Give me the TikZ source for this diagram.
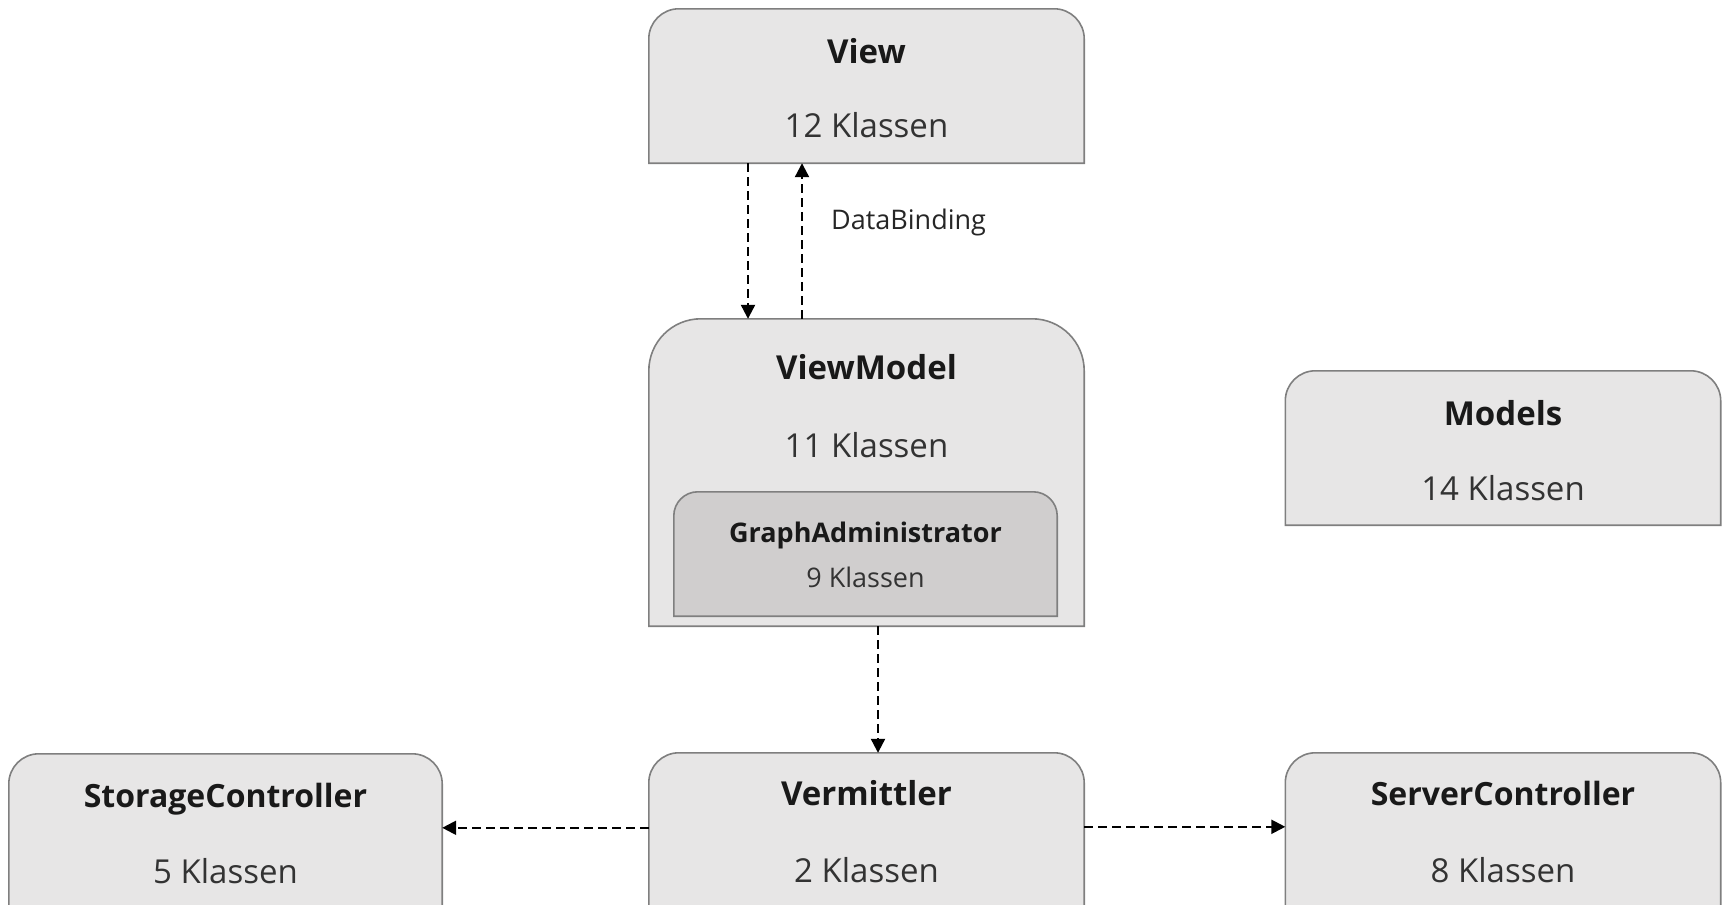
\documentclass[tikz,border=0pt]{standalone}
\usepackage{fontspec}
\setmainfont{Open Sans}
\usepackage{xcolor}
\usepackage{tikz}
\usetikzlibrary{
	arrows.meta,									% 提供各种箭头样式
	backgrounds,									% 定义图片背景
	positioning,									% 节点的高级摆放
}

\definecolor{boxgray}{HTML}{E7E6E6}
\definecolor{innergray}{HTML}{D0CECE}
\definecolor{rimgray}{HTML}{7F7F7F}
\definecolor{countgray}{HTML}{333333}

\tikzset{
	kasten/.style={minimum width=435pt, minimum height=154pt, inner sep=0pt},
	kastenrand/.style={fill=boxgray, draw=rimgray, line width=1.6pt},
	titel/.style={anchor=base, inner sep=0pt, font=\bfseries\fontsize{33}{40}\selectfont, text=black!90},
	anzahl/.style={anchor=base, inner sep=0pt, font=\fontsize{33}{40}\selectfont, text=countgray},
	beschriftung/.style={inner sep=0pt, font=\fontsize{27}{32}\selectfont, text=black!85},
	abh/.style={line width=2.2pt, dash pattern=on 9pt off 5pt, -{Triangle[length=14pt,width=14pt]}},
}

\newcommand{\kastenform}[3][kastenrand]{%
	\path[#1] (#2.south west) [rounded corners=#3] -- (#2.north west) -- (#2.north east) [sharp corners] -- (#2.south east) -- cycle;}

\begin{document}
\begin{tikzpicture}[x=1pt, y=-1pt]
		\useasboundingbox (0,0) rectangle (1727,905);
		\clip (0,0) rectangle (1727,905);
		\node[kasten] (view) at (866.5,86) {};
		\node[kasten, minimum height=307pt] (viewmodel) at (866.5,472.5) {};
		\node[kasten, minimum width=383pt, minimum height=124pt] (graphadmin) at (865.5,554) {};
		\node[kasten] (models) at (1503,448) {};
		\node[kasten, minimum width=433pt, minimum height=180pt] (storage) at (225.5,844) {};
		\node[kasten, minimum height=180pt] (vermittler) at (866.5,843) {};
		\node[kasten, minimum height=180pt] (server) at (1503,843) {};

		\begin{scope}[on background layer]
			\kastenform{view}{30pt}
			\kastenform{viewmodel}{52pt}
			\kastenform[kastenrand, fill=innergray]{graphadmin}{24pt}
			\kastenform{models}{30pt}
			\kastenform{storage}{30pt}
			\kastenform{vermittler}{30pt}
			\kastenform{server}{30pt}
		\end{scope}

		\node[titel] (viewT) at ([yshift=-55pt]view.north) {View};
		\node[anzahl] (viewN) at ([yshift=-129pt]view.north) {12 Klassen};
		\node[titel] (viewmodelT) at ([yshift=-61pt]viewmodel.north) {ViewModel};
		\node[anzahl] (viewmodelN) at ([yshift=-139pt]viewmodel.north) {11 Klassen};
		\node[titel, font=\bfseries\fontsize{27}{32}\selectfont] (graphadminT) at ([yshift=-51pt]graphadmin.north) {GraphAdministrator};
		\node[anzahl, font=\fontsize{27}{32}\selectfont] (graphadminN) at ([yshift=-96pt]graphadmin.north) {9 Klassen};
		\node[titel] (modelsT) at ([yshift=-55pt]models.north) {Models};
		\node[anzahl] (modelsN) at ([yshift=-130pt]models.north) {14 Klassen};
		\node[titel, font=\bfseries\fontsize{32}{40}\selectfont] (storageT) at ([yshift=-54pt]storage.north) {StorageController};
		\node[anzahl] (storageN) at ([yshift=-130pt]storage.north) {5 Klassen};
		\node[titel] (vermittlerT) at ([yshift=-53pt]vermittler.north) {Vermittler};
		\node[anzahl] (vermittlerN) at ([yshift=-130pt]vermittler.north) {2 Klassen};
		\node[titel, font=\bfseries\fontsize{32}{40}\selectfont] (serverT) at ([yshift=-53pt]server.north) {ServerController};
		\node[anzahl] (serverN) at ([yshift=-130pt]server.north) {8 Klassen};

		\draw[abh] ([xshift=-118.5pt]view.south) -- ([xshift=-118.5pt]viewmodel.north);
		\draw[abh] ([xshift=-64.5pt]viewmodel.north) -- ([xshift=-64.5pt]view.south)
			node[beschriftung, pos=0.62, anchor=west, xshift=28pt] (binding) {DataBinding};
		\draw[abh] ([xshift=11.5pt]viewmodel.south) -- ([xshift=11.5pt]vermittler.north);
		\draw[abh] ([yshift=-75pt]vermittler.north west) -- ([yshift=-74pt]storage.north east);
		\draw[abh] ([yshift=-74pt]vermittler.north east) -- ([yshift=-74pt]server.north west);
	\end{tikzpicture}
\end{document}
